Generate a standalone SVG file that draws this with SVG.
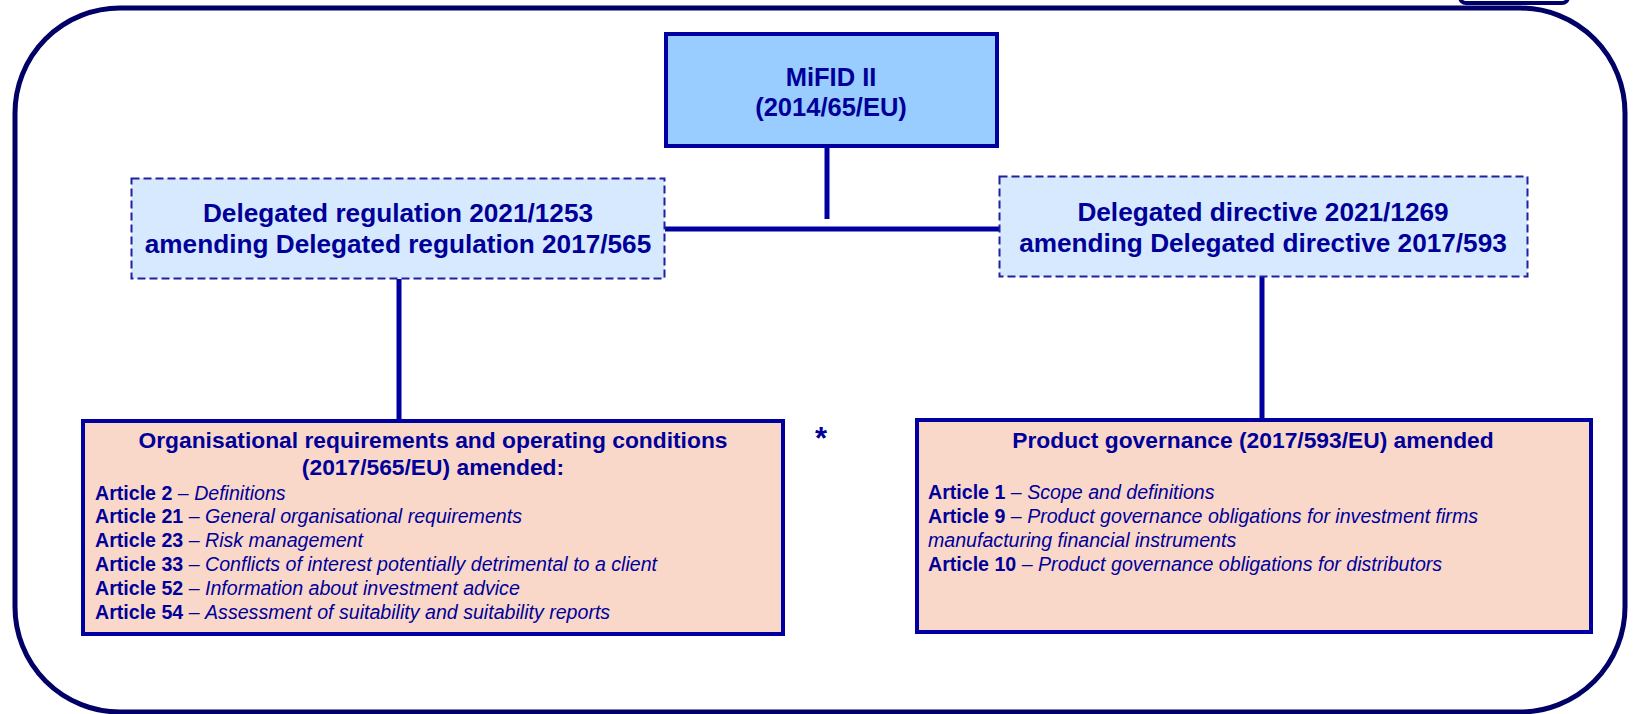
<svg xmlns="http://www.w3.org/2000/svg" width="1637" height="714" viewBox="0 0 1637 714">
<style>
text{font-family:"Liberation Sans",Arial,sans-serif;fill:#000099}
.b{font-weight:bold}
.t{font-weight:bold;text-anchor:middle}
.i{font-style:italic}
.art{font-size:19.6px}
.solid{stroke:#0000A0;stroke-width:4}
.dash{fill:#D6E9FE;stroke:#2020A0;stroke-width:2;stroke-dasharray:8 4}
.pink{fill:#F9D8CA}
.conn{stroke:#0000A0;stroke-width:5;fill:none}
</style>
<rect x="1460" y="-20" width="108" height="23" rx="6" fill="none" stroke="#000066" stroke-width="4"/>
<rect id="frame" x="15" y="8" width="1610" height="704" rx="105" fill="none" stroke="#000066" stroke-width="5"/>
<g id="connectors">
<line class="conn" x1="827" y1="148" x2="827" y2="219"/>
<line class="conn" x1="665" y1="229" x2="999" y2="229"/>
<line class="conn" x1="399" y1="279" x2="399" y2="420"/>
<line class="conn" x1="1262" y1="277" x2="1262" y2="419"/>
</g>
<g id="mifid">
<rect class="solid" x="666" y="34" width="331" height="112" fill="#99CCFF"/>
<text class="t" x="831" y="86" font-size="25.5">MiFID II</text>
<text class="t" x="831" y="116" font-size="25.5">(2014/65/EU)</text>
</g>
<g id="reg2021">
<rect class="dash" x="131.5" y="178.5" width="533" height="100"/>
<text class="t" x="398" y="222" font-size="26.2">Delegated regulation 2021/1253</text>
<text class="t" x="398" y="253" font-size="26.2">amending Delegated regulation 2017/565</text>
</g>
<g id="dir2021">
<rect class="dash" x="999.5" y="176.5" width="528" height="100"/>
<text class="t" x="1263" y="221" font-size="26.2">Delegated directive 2021/1269</text>
<text class="t" x="1263" y="252" font-size="26.2">amending Delegated directive 2017/593</text>
</g>
<g id="org">
<rect class="solid pink" x="83" y="421" width="700" height="213"/>
<text class="t" x="433" y="448" font-size="22.8">Organisational requirements and operating conditions</text>
<text class="t" x="433" y="475" font-size="22.8">(2017/565/EU) amended:</text>
<text class="art" x="95" y="500"><tspan class="b">Article 2</tspan> – <tspan class="i">Definitions</tspan></text>
<text class="art" x="95" y="523"><tspan class="b">Article 21</tspan> – <tspan class="i">General organisational requirements</tspan></text>
<text class="art" x="95" y="547"><tspan class="b">Article 23</tspan> – <tspan class="i">Risk management</tspan></text>
<text class="art" x="95" y="571"><tspan class="b">Article 33</tspan> – <tspan class="i">Conflicts of interest potentially detrimental to a client</tspan></text>
<text class="art" x="95" y="595"><tspan class="b">Article 52</tspan> – <tspan class="i">Information about investment advice</tspan></text>
<text class="art" x="95" y="619"><tspan class="b">Article 54</tspan> – <tspan class="i">Assessment of suitability and suitability reports</tspan></text>
</g>
<g id="prod">
<rect class="solid pink" x="917" y="420" width="674" height="212"/>
<text class="t" x="1253" y="448" font-size="22.8">Product governance (2017/593/EU) amended</text>
<text class="art" x="928" y="499"><tspan class="b">Article 1</tspan> – <tspan class="i">Scope and definitions</tspan></text>
<text class="art" x="928" y="523"><tspan class="b">Article 9</tspan> – <tspan class="i">Product governance obligations for investment firms</tspan></text>
<text class="art i" x="928" y="547">manufacturing financial instruments</text>
<text class="art" x="928" y="571"><tspan class="b">Article 10</tspan> – <tspan class="i">Product governance obligations for distributors</tspan></text>
</g>
<g id="asterisk">
<text class="b" x="821" y="449" font-size="31" text-anchor="middle">*</text>
</g>
</svg>
